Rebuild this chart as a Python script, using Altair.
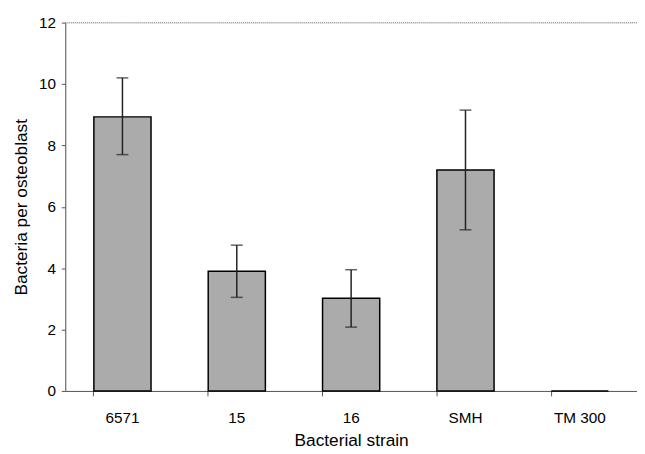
import altair as alt
import pandas as pd

strains = ["6571", "15", "16", "SMH", "TM 300"]
means = [8.93, 3.9, 3.02, 7.2, 0.0]
err_low = [7.7, 3.05, 2.08, 5.25, 0.0]
err_high = [10.2, 4.75, 3.95, 9.15, 0.0]

df = pd.DataFrame({"strain": strains, "mean": means, "lo": err_low, "hi": err_high})
df_err = df[df["mean"] > 0]

font = "Liberation Sans"
x_enc = alt.X("strain:N", sort=strains, title="Bacterial strain",
              scale=alt.Scale(paddingInner=0.5, paddingOuter=0.25),
              axis=alt.Axis(labelAngle=0, titlePadding=6, labelPadding=15, tickSize=5, bandPosition=0))

y_scale = alt.Scale(domain=[0, 12], nice=False)

bars = alt.Chart(df).mark_bar(fill="#ababab", stroke="black", strokeWidth=1.5).encode(
    x=x_enc,
    y=alt.Y("mean:Q", scale=y_scale, title="Bacteria per osteoblast",
            axis=alt.Axis(values=[0, 2, 4, 6, 8, 10, 12], grid=False, titlePadding=8,
                          tickSize=4, labelPadding=6)),
)

rules = alt.Chart(df_err).mark_rule(color="#222", strokeWidth=1.5).encode(
    x=alt.X("strain:N", sort=strains), y=alt.Y("lo:Q", scale=y_scale), y2="hi:Q")

caps_hi = alt.Chart(df_err).mark_tick(color="#222", thickness=1.5, size=12, orient="horizontal").encode(
    x=alt.X("strain:N", sort=strains), y=alt.Y("hi:Q", scale=y_scale))
caps_lo = alt.Chart(df_err).mark_tick(color="#222", thickness=1.5, size=12, orient="horizontal").encode(
    x=alt.X("strain:N", sort=strains), y=alt.Y("lo:Q", scale=y_scale))

top = alt.Chart(pd.DataFrame({"v": [12]})).mark_rule(color="#888", strokeDash=[1, 1], strokeWidth=1).encode(
    y=alt.Y("v:Q", scale=y_scale))

chart = alt.layer(bars, rules, caps_hi, caps_lo, top).properties(
    width=579, height=373,
    autosize=alt.AutoSizeParams(type="none"),
    padding={"left": 58, "top": 12, "right": 0, "bottom": 60},
).configure_view(stroke=None).configure(background="white").configure_axis(
    labelFont=font, labelFontSize=15.5, labelColor="black",
    titleFont=font, titleFontSize=17.5, titleFontWeight="normal", titleColor="black",
    domainColor="#555", tickColor="#555", grid=False,
)

chart.save("out.html", embed_options={"renderer": "svg", "actions": False})
